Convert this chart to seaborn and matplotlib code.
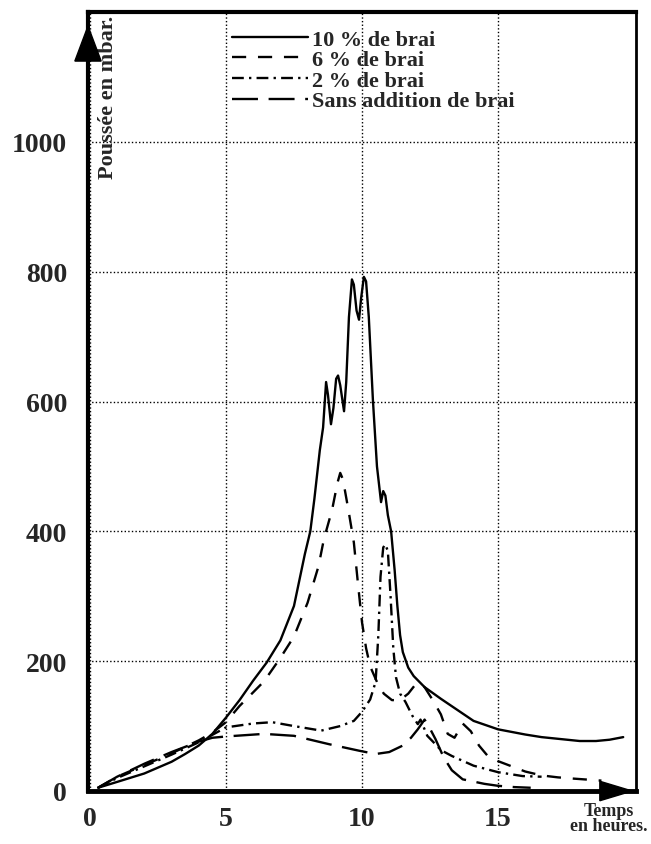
import matplotlib
matplotlib.use("Agg")
import matplotlib.pyplot as plt
from matplotlib.patches import Polygon
import seaborn as sns
import pandas as pd

# ---- data (hours, mbar) ----
x_10 = [0.3, 1, 2, 3, 3.5, 4, 4.5, 5, 5.5, 6, 6.5, 7, 7.5, 7.9, 8.1, 8.25, 8.45,
        8.57, 8.68, 8.75, 8.86, 8.95, 9.05, 9.12, 9.2, 9.34, 9.42, 9.52, 9.63,
        9.7, 9.8, 9.89, 9.97, 10.07, 10.15, 10.25, 10.4, 10.55, 10.7, 10.78,
        10.86, 10.95, 11.07, 11.2, 11.3, 11.4, 11.5, 11.7, 11.9, 12.3, 12.9,
        13.5, 14.1, 15.0, 16.0, 16.6, 17.3, 18.0, 18.6, 19.1, 19.6]
y_10 = [5, 14, 27, 45, 57, 70, 88, 113, 140, 170, 198, 232, 285, 365, 400, 450, 525,
        560, 630, 610, 565, 590, 635, 640, 625, 585, 630, 730, 788,
        780, 740, 726, 760, 792, 785, 730, 603, 500, 445, 462,
        455, 425, 400, 340, 285, 240, 214, 190, 177, 160, 142,
        125, 108, 95, 87, 83, 80, 77, 77, 79, 83]

x_6 = [0.3, 1, 2, 3, 4, 4.5, 5, 5.5, 6, 6.4, 7.0, 7.5, 8.0, 8.4, 8.6, 8.9, 9.1, 9.2,
       9.3, 9.5, 9.7, 9.85, 10.0, 10.15, 10.3, 10.55, 10.8, 11.1, 11.4, 11.7, 12.0,
       12.3, 12.6, 12.9, 13.15, 13.4, 13.7, 14.0, 14.3, 14.6, 15.0, 15.5, 16.0,
       16.6, 17.2, 17.8, 18.8]
y_6 = [5, 22, 40, 58, 78, 90, 106, 131, 152, 169, 205, 238, 290, 346, 388, 433, 475, 490,
       480, 433, 383, 320, 260, 220, 192, 168, 150, 140, 140, 150, 166,
       160, 140, 118, 88, 82, 104, 92, 70, 55, 46, 38, 30,
       24, 21, 19, 16]

x_2 = [0.3, 1, 2, 3, 4, 5, 6, 6.7, 7.5, 8.5, 9.2, 9.7, 10.0, 10.3, 10.5, 10.6, 10.68,
       10.78, 10.85, 10.95, 11.05, 11.15, 11.25, 11.4, 11.6, 11.85, 12.05, 12.15,
       12.25, 12.4, 12.7, 12.9, 13.3, 14.1, 15.0, 15.9, 16.6]
y_2 = [5, 20, 38, 56, 75, 98, 104, 106, 100, 93, 100, 108, 122, 141, 168, 240, 330,
       375, 380, 370, 300, 220, 175, 150, 137, 116, 103, 110,
       100, 85, 72, 63, 54, 39, 29, 23, 22]

x_0 = [0.3, 1, 2, 3, 4, 4.5, 5, 5.7, 6.4, 7.5, 8.8, 9.9, 10.5, 11.0, 11.5, 11.8,
       12.05, 12.3, 12.45, 12.7, 13.0, 13.3, 13.7, 14.5, 15.0, 15.6, 16.2]
y_0 = [5, 22, 42, 60, 76, 82, 84, 86, 88, 85, 72, 62, 57, 60, 70, 82,
       95, 110, 100, 80, 52, 32, 18, 11, 8, 6, 5]

labels = ["10 % de brai", "6 % de brai", "2 % de brai", "Sans addition de brai"]
x_ticks = [0, 5, 10, 15]
y_ticks = [0, 200, 400, 600, 800, 1000]

series = [(x_10, y_10), (x_6, y_6), (x_2, y_2), (x_0, y_0)]
styles = ["-", (0, (6, 5)), (0, (5, 2.2, 1, 2.2)), (0, (11, 4.5))]

sns.set_style("white")
plt.rcParams["font.family"] = ["Liberation Serif", "DejaVu Serif"]
plt.rcParams["font.weight"] = "bold"

fig = plt.figure(figsize=(6.51, 8.45), dpi=100)
ax = fig.add_axes([88 / 651, 1 - 792 / 845, 548 / 651, 779 / 845])

for (xs, ys), lab, ls in zip(series, labels, styles):
    df = pd.DataFrame({"t": xs, "p": ys})
    sns.lineplot(data=df, x="t", y="p", ax=ax, color="black", linewidth=1.7,
                 linestyle=ls, label=lab, estimator=None, sort=False)

ax.set_xlim(-0.07, 20.07)
ax.set_ylim(0, 1200)
ax.set_xticks(x_ticks)
ax.set_yticks(y_ticks)
ax.set_xticklabels([str(v) for v in x_ticks])
ax.set_yticklabels([str(v) for v in y_ticks])
ax.tick_params(axis="both", length=0, labelsize=20)
ax.tick_params(axis="y", pad=15)
ax.tick_params(axis="x", pad=11)
for lab in ax.get_xticklabels() + ax.get_yticklabels():
    lab.set_fontweight("bold")
ax.set_xlabel("")
ax.set_ylabel("")

ax.grid(True, color="black", linestyle=(0, (1, 1.6)), linewidth=1.0)
ax.set_axisbelow(True)

for side, lw in [("left", 3.0), ("bottom", 3.5), ("top", 3.0), ("right", 2.0)]:
    ax.spines[side].set_visible(True)
    ax.spines[side].set_color("black")
    ax.spines[side].set_linewidth(lw)

# arrow heads on the axes
ax.add_patch(Polygon([(-0.024, 0.937), (0.024, 0.937), (0.0, 0.982)], closed=True,
                     transform=ax.transAxes, color="black", clip_on=False, zorder=5))
ax.add_patch(Polygon([(0.934, -0.0125), (0.934, 0.0125), (0.993, 0.0)], closed=True,
                     transform=ax.transAxes, color="black", clip_on=False, zorder=5))

ax.text(0.036, 0.997, "Poussée en mbar.", rotation=90, ha="center", va="top",
        transform=ax.transAxes, fontsize=16, fontweight="bold")
fig.text(609 / 651, 1 - 819 / 845, "Temps\nen heures.", ha="center", va="center",
         fontsize=13, fontweight="bold", linespacing=0.85)

leg = ax.legend(loc="upper left", bbox_to_anchor=(0.263, 0.978), frameon=False,
                fontsize=16, handlelength=3.4, handletextpad=0.2, labelspacing=0.0,
                borderaxespad=0, borderpad=0)
for t in leg.get_texts():
    t.set_fontweight("bold")

fig.savefig("out.png", dpi=100)
